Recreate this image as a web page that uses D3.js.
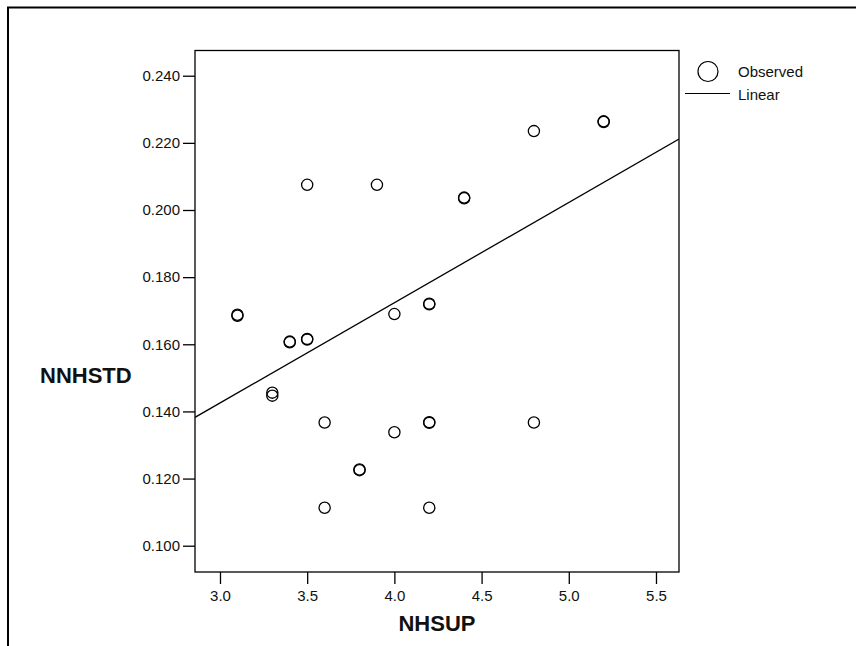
<!DOCTYPE html>
<html>
<head>
<meta charset="utf-8">
<script src="https://cdn.jsdelivr.net/npm/d3@7.9.0/dist/d3.min.js"></script>
<style>
  body { margin: 0; background: #fff; }
  svg text { font-family: "Liberation Sans", Arial, sans-serif; fill: #111; }
</style>
</head>
<body>
<svg id="chart" width="856" height="646"></svg>
<script>
const nhsup  = [3.1, 3.1, 3.3, 3.3, 3.4, 3.4, 3.5, 3.5, 3.5, 3.6, 3.6, 3.8, 3.8, 3.9,
                4.0, 4.0, 4.2, 4.2, 4.2, 4.2, 4.2, 4.4, 4.4, 4.8, 4.8, 5.2, 5.2];
const nnhstd = [0.1688, 0.1685, 0.1456, 0.1447, 0.1606, 0.1608, 0.1616, 0.1614, 0.2075, 0.1367, 0.1113,
                0.1225, 0.1227, 0.2075, 0.1690, 0.1338, 0.1719, 0.1721, 0.1368, 0.1366, 0.1113,
                0.2037, 0.2035, 0.2235, 0.1367, 0.2264, 0.2262];

// linear fit
const fitIntercept = 0.0529;
const fitSlope = 0.02987;

const xTicks = [3.0, 3.5, 4.0, 4.5, 5.0, 5.5];
const yTicks = [0.100, 0.120, 0.140, 0.160, 0.180, 0.200, 0.220, 0.240];
const legendItems = ['Observed', 'Linear'];

const points = nhsup.map((x, i) => ({ x: x, y: nnhstd[i] }));

const svg = d3.select('#chart');

// plot box
const box = { left: 195, right: 679, top: 50.5, bottom: 572 };

const x = d3.scaleLinear()
  .domain([2.8567, 5.632])
  .range([box.left, box.right]);

const y = d3.scaleLinear()
  .domain([0.09217, 0.24751])
  .range([box.bottom, box.top]);

// outer frame (only top and left edges show)
svg.append('path')
  .attr('d', 'M8,646 L8,7.5 L856,7.5')
  .attr('fill', 'none')
  .attr('stroke', '#000')
  .attr('stroke-width', 2);

svg.append('rect')
  .attr('x', box.left)
  .attr('y', box.top)
  .attr('width', box.right - box.left)
  .attr('height', box.bottom - box.top)
  .attr('fill', 'none')
  .attr('stroke', '#000')
  .attr('stroke-width', 1.3);

// axes
const xAxis = svg.append('g')
  .attr('transform', `translate(0,${box.bottom})`)
  .call(d3.axisBottom(x).tickValues(xTicks).tickFormat(d3.format('.1f')).tickSize(12).tickPadding(6));

const yAxis = svg.append('g')
  .attr('transform', `translate(${box.left},0)`)
  .call(d3.axisLeft(y).tickValues(yTicks).tickFormat(d3.format('.3f')).tickSize(12).tickPadding(3));

[xAxis, yAxis].forEach((g) => {
  g.select('.domain').remove();
  g.selectAll('.tick line').attr('stroke', '#000').attr('stroke-width', 1.3);
  g.selectAll('.tick text')
    .attr('font-size', 15)
    .attr('font-family', '"Liberation Sans", Arial, sans-serif')
    .attr('fill', '#111');
});

// axis titles
svg.append('text')
  .attr('x', (box.left + box.right) / 2)
  .attr('y', 631)
  .attr('text-anchor', 'middle')
  .attr('font-size', 22)
  .attr('font-weight', 'bold')
  .text('NHSUP');

svg.append('text')
  .attr('x', 40)
  .attr('y', 383)
  .attr('font-size', 22)
  .attr('font-weight', 'bold')
  .text('NNHSTD');

// fit line, clipped to the plot box
svg.append('clipPath')
  .attr('id', 'plot-clip')
  .append('rect')
  .attr('x', box.left)
  .attr('y', box.top)
  .attr('width', box.right - box.left)
  .attr('height', box.bottom - box.top);

const lineX = x.domain();
svg.append('line')
  .attr('clip-path', 'url(#plot-clip)')
  .attr('x1', x(lineX[0]))
  .attr('y1', y(fitIntercept + fitSlope * lineX[0]))
  .attr('x2', x(lineX[1]))
  .attr('y2', y(fitIntercept + fitSlope * lineX[1]))
  .attr('stroke', '#000')
  .attr('stroke-width', 1.3);

// observed points
svg.append('g')
  .selectAll('circle')
  .data(points)
  .enter()
  .append('circle')
  .attr('cx', (d) => x(d.x))
  .attr('cy', (d) => y(d.y))
  .attr('r', 5.6)
  .attr('fill', 'none')
  .attr('stroke', '#000')
  .attr('stroke-width', 1.3);

// legend
const legend = svg.append('g');

legend.append('circle')
  .attr('cx', 708)
  .attr('cy', 71.5)
  .attr('r', 10)
  .attr('fill', 'none')
  .attr('stroke', '#000')
  .attr('stroke-width', 1.2);

legend.append('line')
  .attr('x1', 685)
  .attr('x2', 730)
  .attr('y1', 93.5)
  .attr('y2', 93.5)
  .attr('stroke', '#000')
  .attr('stroke-width', 1.2);

legend.selectAll('text.item')
  .data(legendItems)
  .enter()
  .append('text')
  .attr('class', 'item')
  .attr('x', 738)
  .attr('y', (d, i) => 77 + i * 23)
  .attr('font-size', 15)
  .text((d) => d);
</script>
</body>
</html>
